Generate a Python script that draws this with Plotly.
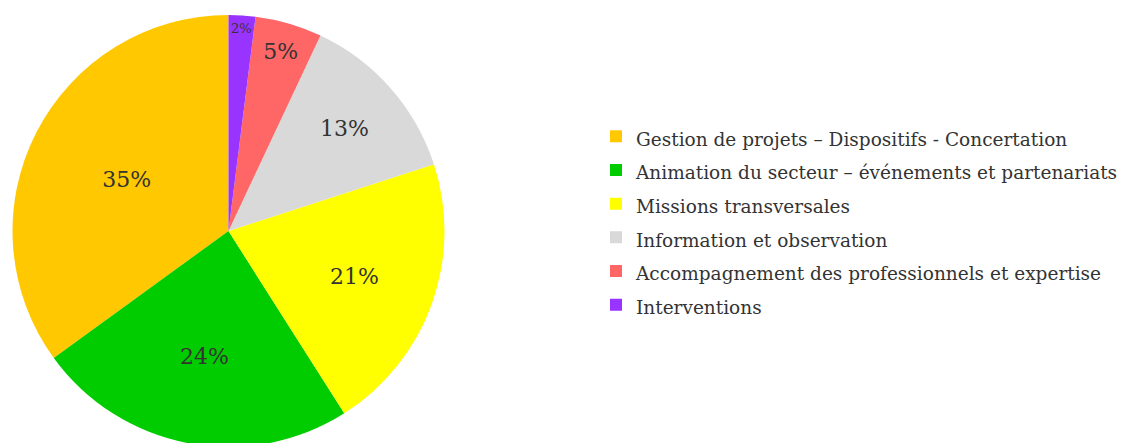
import plotly.graph_objects as go

categories = [
    "Gestion de projets – Dispositifs - Concertation",
    "Animation du secteur – événements et partenariats",
    "Missions transversales",
    "Information et observation",
    "Accompagnement des professionnels et expertise",
    "Interventions",
]
values = [35, 24, 21, 13, 5, 2]
colors = ["#FFC800", "#00CC00", "#FFFF00", "#D9D9D9", "#FF6666", "#9933FF"]

W, H = 1130, 443
legend_labels = [f'<span style="font-size:18.5px">{c}</span>' for c in categories]

# counterclockwise: first slice ends at 12 o'clock unless rotated by its own angle
first_angle = values[0] / sum(values) * 360

fig = go.Figure(
    go.Pie(
        labels=legend_labels,
        values=values,
        sort=False,
        direction="counterclockwise",
        rotation=-first_angle,
        marker=dict(colors=colors, line=dict(width=0)),
        texttemplate="%{value}%",
        textposition="inside",
        insidetextorientation="horizontal",
        textfont=dict(family="DejaVu Serif", size=22, color="#333333"),
        hoverinfo="label+percent",
        domain=dict(x=[4.5 / W, 436.5 / W], y=[4 / H, 436 / H]),
    )
)

fig.update_layout(
    width=W,
    height=H,
    margin=dict(l=0, r=0, t=0, b=0),
    paper_bgcolor="white",
    plot_bgcolor="white",
    showlegend=True,
    legend=dict(
        x=588 / W,
        xanchor="left",
        y=0.5192,
        yanchor="middle",
        font=dict(family="DejaVu Serif", size=23.6, color="#333333"),
        bgcolor="rgba(0,0,0,0)",
    ),
)

fig.write_html("out.html")
